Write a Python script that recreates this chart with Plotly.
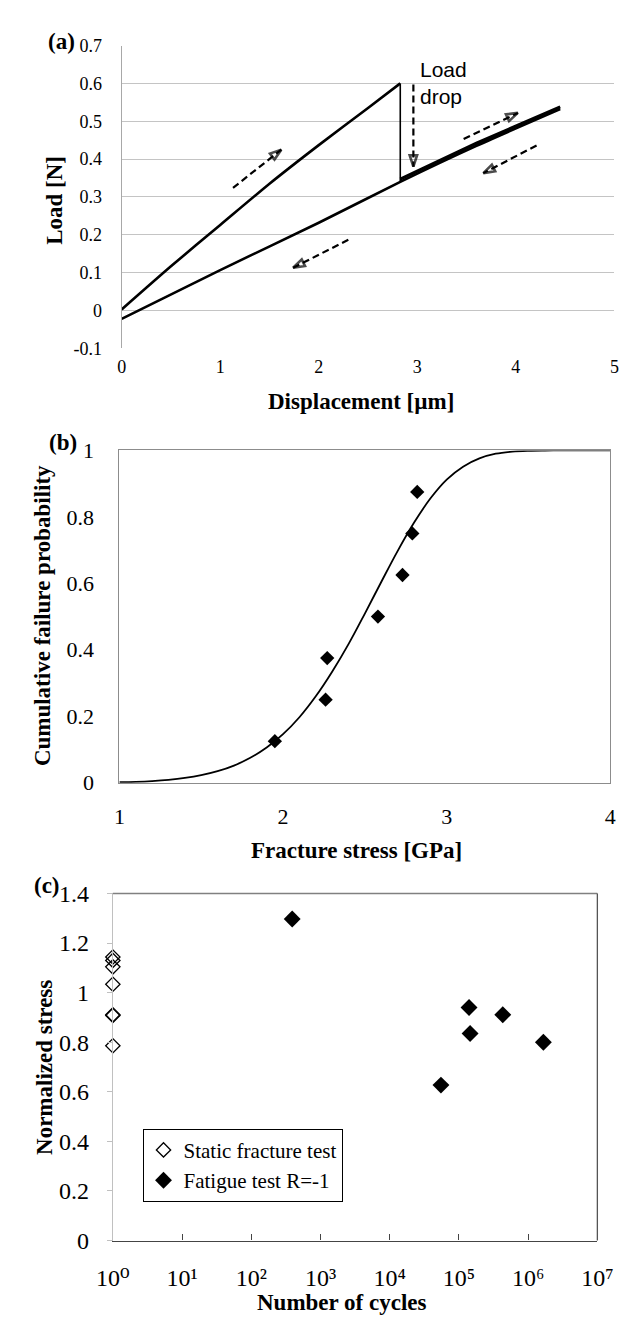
import plotly.graph_objects as go

W, H = 630, 1322
SERIF = "Liberation Serif, DejaVu Serif, serif"
SANS = "Liberation Sans"

# ---------------- Panel (a) data ----------------
a_load_x = [0.0, 0.5, 1.0, 1.5, 2.0, 2.5, 2.827]
a_load_y = [0.003, 0.117, 0.226, 0.335, 0.437, 0.535, 0.6]
a_drop_x = [2.827, 2.827]
a_drop_y = [0.6, 0.342]
a_reload_x = [2.827, 3.6, 4.45]
a_reload_y = [0.347, 0.442, 0.538]
a_unload_x = [4.45, 3.6, 2.827, 2.0, 1.0, 0.0]
a_unload_y = [0.532, 0.435, 0.340, 0.232, 0.107, -0.022]
a_xticks = [0, 1, 2, 3, 4, 5]
a_yticks = [-0.1, 0, 0.1, 0.2, 0.3, 0.4, 0.5, 0.6, 0.7]
a_yticktext = ["-0.1", "0", "0.1", "0.2", "0.3", "0.4", "0.5", "0.6", "0.7"]
# dashed direction arrows: (tail x, tail y, head x, head y)
a_arrows = [
    (1.13, 0.324, 1.62, 0.425),
    (2.30, 0.187, 1.74, 0.113),
    (3.47, 0.453, 4.02, 0.522),
    (4.21, 0.436, 3.67, 0.363),
    (2.96, 0.597, 2.96, 0.38),
]

# ---------------- Panel (b) data ----------------
b_stress = [1.95, 2.26, 2.27, 2.58, 2.73, 2.79, 2.82]
b_prob = [0.125, 0.25, 0.375, 0.5, 0.625, 0.75, 0.875]
b_fit_x = [1.0, 1.1, 1.2, 1.3, 1.4, 1.5, 1.6, 1.7, 1.8, 1.9, 2.0, 2.1, 2.2, 2.3,
           2.4, 2.5, 2.6, 2.7, 2.8, 2.9, 3.0, 3.1, 3.2, 3.3, 3.4, 3.5, 3.6, 3.7,
           3.8, 3.9, 4.0]
b_fit_y = [0.0015, 0.0028, 0.0051, 0.0087, 0.0143, 0.0226, 0.0346, 0.0516,
           0.075, 0.106, 0.146, 0.197, 0.26, 0.334, 0.417, 0.509, 0.604, 0.697,
           0.782, 0.855, 0.912, 0.951, 0.976, 0.99, 0.9964, 0.9989, 0.9997,
           1.0, 1.0, 1.0, 1.0]
b_xticks = [1, 2, 3, 4]
b_yticks = [0, 0.2, 0.4, 0.6, 0.8, 1]

# ---------------- Panel (c) data ----------------
c_static_n = [1, 1, 1, 1, 1, 1, 1]
c_static_s = [1.144, 1.13, 1.104, 1.034, 0.911, 0.908, 0.786]
c_fatigue_n = [390, 1.4e5, 1.45e5, 4.3e5, 1.66e6, 5.5e4]
c_fatigue_s = [1.297, 0.94, 0.835, 0.911, 0.80, 0.627]
c_xticks = [1, 10, 100, 1e3, 1e4, 1e5, 1e6, 1e7]
c_xticktext = ["10⁰", "10¹", "10²", "10³", "10⁴", "10⁵", "10⁶", "10⁷"]
c_yticks = [0, 0.2, 0.4, 0.6, 0.8, 1, 1.2, 1.4]


def px_x(p):
    return p / W


def px_y(p):
    return 1 - p / H


fig = go.Figure()

# ---- panel (a) traces
line_a = dict(color="black", width=2.6, shape="spline", smoothing=0.6)
fig.add_trace(go.Scatter(x=a_load_x, y=a_load_y, mode="lines", line=line_a,
                         xaxis="x", yaxis="y", showlegend=False, hoverinfo="skip"))
fig.add_trace(go.Scatter(x=a_drop_x, y=a_drop_y, mode="lines",
                         line=dict(color="black", width=1.6),
                         xaxis="x", yaxis="y", showlegend=False, hoverinfo="skip"))
fig.add_trace(go.Scatter(x=a_reload_x, y=a_reload_y, mode="lines",
                         line=dict(color="black", width=3.2),
                         xaxis="x", yaxis="y", showlegend=False, hoverinfo="skip"))
fig.add_trace(go.Scatter(x=a_unload_x, y=a_unload_y, mode="lines", line=line_a,
                         xaxis="x", yaxis="y", showlegend=False, hoverinfo="skip"))

for (tx, ty, hx, hy) in a_arrows:
    fig.add_trace(go.Scatter(
        x=[tx, hx], y=[ty, hy], mode="lines+markers",
        line=dict(color="black", width=2.2, dash="7px,4px"),
        marker=dict(symbol=["circle", "arrow-open"], size=[0, 12],
                    angleref="previous", color="black",
                    line=dict(color="black", width=2.6)),
        xaxis="x", yaxis="y", showlegend=False, hoverinfo="skip", cliponaxis=False))

# ---- panel (b) traces
fig.add_trace(go.Scatter(x=b_fit_x, y=b_fit_y, mode="lines",
                         line=dict(color="black", width=1.8, shape="spline"),
                         xaxis="x2", yaxis="y2", showlegend=False, hoverinfo="skip"))
fig.add_trace(go.Scatter(x=b_stress, y=b_prob, mode="markers",
                         marker=dict(symbol="diamond", size=11, color="black"),
                         xaxis="x2", yaxis="y2", showlegend=False, cliponaxis=False))

# ---- panel (c) traces
fig.add_trace(go.Scatter(x=c_static_n, y=c_static_s, mode="markers",
                         name="Static fracture test",
                         marker=dict(symbol="diamond-open", size=11, color="black",
                                     line=dict(width=1.3, color="black")),
                         xaxis="x3", yaxis="y3", cliponaxis=False))
fig.add_trace(go.Scatter(x=c_fatigue_n, y=c_fatigue_s, mode="markers",
                         name="Fatigue test R=-1",
                         marker=dict(symbol="diamond", size=13, color="black"),
                         xaxis="x3", yaxis="y3", cliponaxis=False))


def tick_serif(s):
    return dict(family=SERIF, size=s, color="black")


fig.update_layout(
    width=W, height=H,
    margin=dict(l=0, r=0, t=0, b=0),
    paper_bgcolor="white", plot_bgcolor="white",
    showlegend=True,
    legend=dict(x=px_x(124), y=px_y(1130), xanchor="left", yanchor="top",
                bgcolor="white", bordercolor="black", borderwidth=1,
                font=dict(family=SERIF, size=21, color="black"),
                entrywidth=210, entrywidthmode="pixels", tracegroupgap=0),
    xaxis=dict(domain=[px_x(102), px_x(622)], range=[0, 5], anchor="y",
               tickvals=a_xticks, tickfont=tick_serif(18), showgrid=False,
               zeroline=False, showline=False, ticks="", ticklabelstandoff=6,
               fixedrange=True),
    yaxis=dict(domain=[px_y(334), px_y(25)], range=[-0.1, 0.7], anchor="x",
               tickvals=a_yticks, ticktext=a_yticktext, tickfont=tick_serif(18),
               showgrid=True, gridcolor="#c4c4c4", gridwidth=1, zeroline=False,
               showline=True, linecolor="#a8a8a8", linewidth=1, ticks="",
               ticklabelstandoff=15),
    xaxis2=dict(domain=[px_x(99.6), px_x(617.7)], range=[1, 4], anchor="y2",
                tickvals=b_xticks, tickfont=tick_serif(22), showgrid=False,
                zeroline=False, showline=True, mirror=True, linecolor="#8c8c8c",
                linewidth=1, ticks="", ticklabelstandoff=14),
    yaxis2=dict(domain=[px_y(777), px_y(438)], range=[0, 1], anchor="x2",
                tickvals=b_yticks, tickfont=tick_serif(22), showgrid=False,
                zeroline=False, showline=True, mirror=True, linecolor="#8c8c8c",
                linewidth=1, ticks="", ticklabelstandoff=20),
    xaxis3=dict(domain=[px_x(92.7), px_x(604)], type="log", range=[0, 7],
                anchor="y3", tickvals=c_xticks, ticktext=c_xticktext,
                tickfont=tick_serif(24), showgrid=False, zeroline=False,
                showline=True, linecolor="#444444", linewidth=1.3, ticks="inside",
                ticklen=6, tickcolor="#444444", ticklabelstandoff=16),
    yaxis3=dict(domain=[px_y(1244), px_y(890)], range=[0, 1.4], anchor="x3",
                tickvals=c_yticks, tickfont=tick_serif(24), showgrid=False,
                zeroline=False, showline=True, linecolor="#c0c0c0", linewidth=1,
                ticks="outside", ticklen=5, tickcolor="#c0c0c0",
                ticklabelstandoff=13),
)

# top and right borders of panel (c)
shapes = [
    dict(type="line", xref="x3 domain", yref="y3 domain", x0=0, x1=1, y0=1, y1=1,
         line=dict(color="#808080", width=1.3)),
    dict(type="line", xref="x3 domain", yref="y3 domain", x0=1, x1=1, y0=0, y1=1,
         line=dict(color="#555555", width=1.3)),
]

title_font = dict(family=SERIF, size=23, color="black")


def text_ann(txt, x, y, font, angle=0, xanchor="center", yanchor="middle",
             align="center"):
    return dict(text=txt, x=px_x(x), y=px_y(y), xref="paper", yref="paper",
                showarrow=False, font=font, textangle=angle, align=align,
                xanchor=xanchor, yanchor=yanchor)


annotations = [
    text_ann("<b>(a)</b>", 38, 21, title_font),
    text_ann("<b>(b)</b>", 40, 430, title_font),
    text_ann("<b>(c)</b>", 23, 882, title_font),
    text_ann("<b>Displacement [µm]</b>", 355, 388, title_font),
    text_ann("<b>Load [N]</b>", 31, 183, title_font, angle=-90),
    text_ann("<b>Fracture stress [GPa]</b>", 350, 846, title_font),
    text_ann("<b>Cumulative failure probability</b>", 18, 607, title_font, angle=-90),
    text_ann("<b>Number of cycles</b>", 334, 1307, title_font),
    text_ann("<b>Normalized stress</b>", 20, 1067, title_font, angle=-90),
    text_ann("Load<br>drop", 415, 63, dict(family=SANS, size=21, color="black"),
             xanchor="left", align="left"),
]

fig.update_layout(annotations=annotations, shapes=shapes)

fig.write_html("out.html")
